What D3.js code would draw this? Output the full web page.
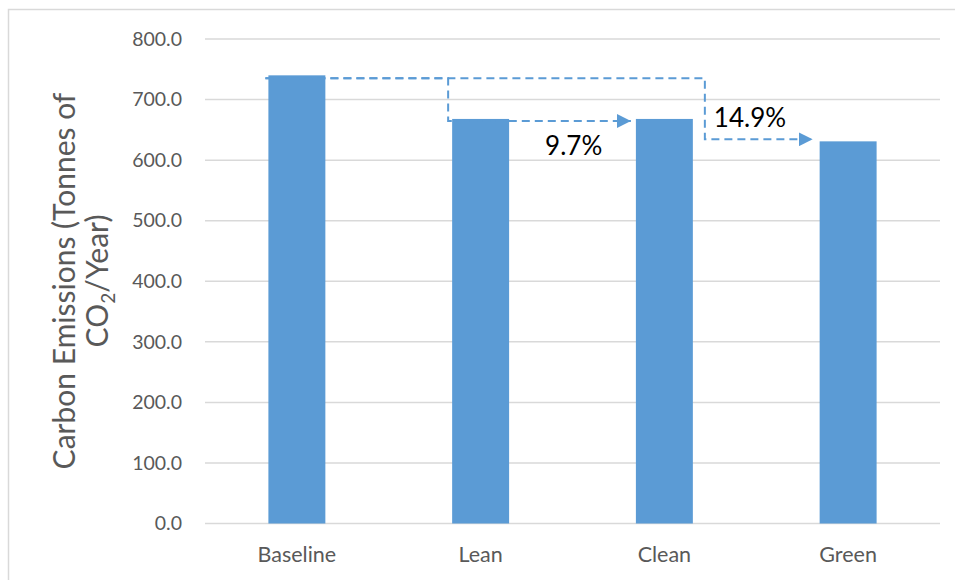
<!DOCTYPE html>
<html>
<head>
<meta charset="utf-8">
<script src="https://cdn.jsdelivr.net/npm/d3@7"></script>
<style>
  body { margin: 0; background: #fff; }
  text { font-family: Lato, "Open Sans", sans-serif; }
</style>
</head>
<body>
<div id="chart"></div>
<script>
const categories = ["Baseline", "Lean", "Clean", "Green"];
const emissions = [740.0, 668.0, 668.0, 631.0];
const yTicks = [0, 100, 200, 300, 400, 500, 600, 700, 800];
const reductionLabels = ["9.7%", "14.9%"];

const W = 955, H = 580;
const margin = {top: 39, right: 15, bottom: 56.5, left: 205};
const width = W - margin.left - margin.right;
const height = H - margin.top - margin.bottom;
const blue = "#5b9bd5";

const svg = d3.select("#chart").append("svg")
    .attr("width", W)
    .attr("height", H);

// chart frame
svg.append("rect")
    .attr("x", 8.5).attr("y", 9.5)
    .attr("width", W).attr("height", H)
    .attr("fill", "none")
    .attr("stroke", "#d9d9d9")
    .attr("stroke-width", 1.5);

const g = svg.append("g")
    .attr("transform", `translate(${margin.left},${margin.top})`);

const x = d3.scaleBand()
    .domain(categories)
    .range([0, width])
    .paddingInner(0.69)
    .paddingOuter(0.345);

const y = d3.scaleLinear()
    .domain([0, 800])
    .range([height, 0]);

// gridlines
g.selectAll(".grid")
    .data(yTicks)
    .enter().append("line")
    .attr("class", "grid")
    .attr("x1", 0).attr("x2", width)
    .attr("y1", d => y(d)).attr("y2", d => y(d))
    .attr("stroke", "#d9d9d9")
    .attr("stroke-width", 1.5);

// y axis labels
const yAxis = g.append("g")
    .call(d3.axisLeft(y).tickValues(yTicks).tickFormat(d3.format(".1f")).tickSize(0).tickPadding(23));
yAxis.select(".domain").remove();
yAxis.selectAll("text")
    .attr("fill", "#595959")
    .style("font-size", "19.5px");

// x axis labels
const xAxis = g.append("g")
    .attr("transform", `translate(0,${height})`)
    .call(d3.axisBottom(x).tickSize(0).tickPadding(23.5));
xAxis.select(".domain").remove();
xAxis.selectAll("text")
    .attr("fill", "#595959")
    .style("font-size", "21.5px");

// bars
g.selectAll(".bar")
    .data(emissions)
    .enter().append("rect")
    .attr("class", "bar")
    .attr("x", (d, i) => x(categories[i]))
    .attr("y", d => y(d))
    .attr("width", x.bandwidth())
    .attr("height", d => height - y(d))
    .attr("fill", blue);

// dashed reduction arrows
svg.append("defs").append("marker")
    .attr("id", "arrow")
    .attr("viewBox", "0 0 10 10")
    .attr("refX", 10).attr("refY", 5)
    .attr("markerWidth", 7).attr("markerHeight", 7)
    .attr("markerUnits", "strokeWidth")
    .attr("orient", "auto")
    .append("path")
    .attr("d", "M0,0L10,5L0,10Z")
    .attr("fill", blue);

const bw = x.bandwidth();
const yStart = y(emissions[0]) + 3;
const arrows = [
    {xTurn: x("Lean") - 4, yEnd: y(emissions[1]) + 2, xEnd: x("Clean") - 5},
    {xTurn: x("Clean") + bw + 12, yEnd: y(emissions[3]) - 2, xEnd: x("Green") - 7}
];
arrows.forEach(a => {
    g.append("path")
        .attr("d", `M${x("Baseline") - 3},${yStart}H${a.xTurn}V${a.yEnd}H${a.xEnd}`)
        .attr("fill", "none")
        .attr("stroke", blue)
        .attr("stroke-width", 2)
        .attr("stroke-dasharray", "8,5")
        .attr("marker-end", "url(#arrow)");
});

// percentage labels
g.append("text")
    .attr("x", x("Lean") + bw + 36)
    .attr("y", y(emissions[1]) + 36)
    .attr("fill", "#000")
    .style("font-size", "26px")
    .text(reductionLabels[0]);
g.append("text")
    .attr("x", x("Clean") + bw + 21)
    .attr("y", y(emissions[3]) - 14)
    .attr("fill", "#000")
    .style("font-size", "26px")
    .text(reductionLabels[1]);

// y axis title
const title = svg.append("text")
    .attr("transform", `translate(0,281) rotate(-90)`)
    .attr("text-anchor", "middle")
    .attr("fill", "#595959")
    .style("font-size", "30px");
title.append("tspan")
    .attr("x", 0).attr("y", 75)
    .text("Carbon Emissions (Tonnes of");
const line2 = title.append("tspan")
    .attr("x", 0).attr("y", 108)
    .text("CO");
line2.append("tspan")
    .attr("dy", 7)
    .style("font-size", "19px")
    .text("2");
line2.append("tspan")
    .attr("dy", -7)
    .text("/Year)");
</script>
</body>
</html>
